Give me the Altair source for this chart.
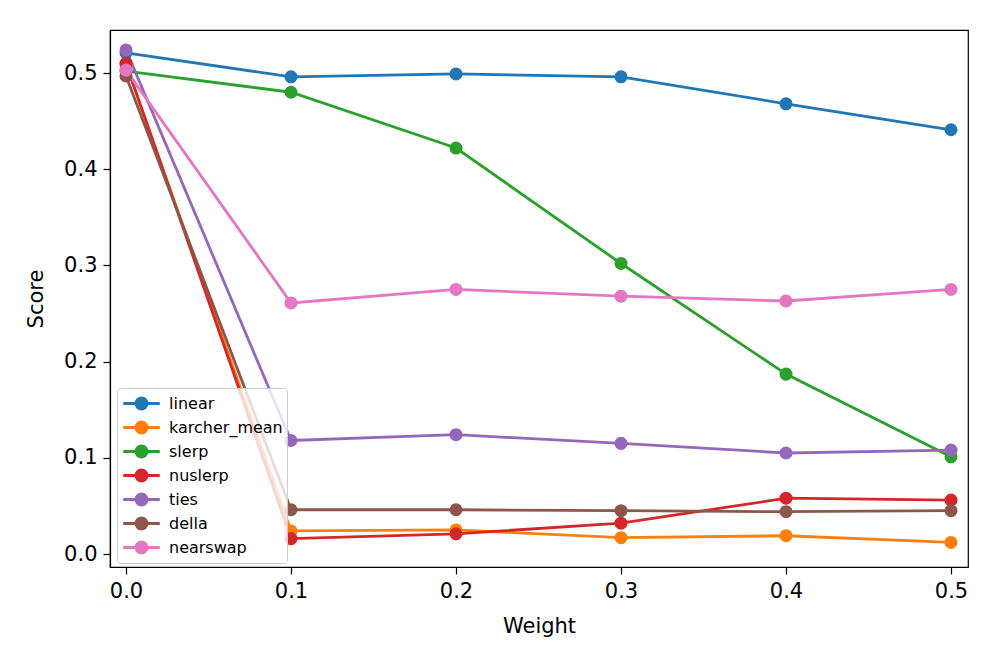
import altair as alt
import pandas as pd

weights = [0.0, 0.1, 0.2, 0.3, 0.4, 0.5]
methods = ["linear", "karcher_mean", "slerp", "nuslerp", "ties", "della", "nearswap"]
colors = ["#1f77b4", "#ff7f0e", "#2ca02c", "#d62728", "#9467bd", "#8c564b", "#e377c2"]

linear = [0.521, 0.496, 0.499, 0.496, 0.468, 0.441]
karcher_mean = [0.509, 0.024, 0.025, 0.017, 0.019, 0.012]
slerp = [0.502, 0.480, 0.422, 0.302, 0.187, 0.101]
nuslerp = [0.510, 0.016, 0.021, 0.032, 0.058, 0.056]
ties = [0.524, 0.118, 0.124, 0.115, 0.105, 0.108]
della = [0.497, 0.046, 0.046, 0.045, 0.044, 0.045]
nearswap = [0.503, 0.261, 0.275, 0.268, 0.263, 0.275]

series = [linear, karcher_mean, slerp, nuslerp, ties, della, nearswap]
rows = []
for i, (m, vals) in enumerate(zip(methods, series)):
    for w, v in zip(weights, vals):
        rows.append({"Weight": w, "Score": v, "method": m, "order": i})
df = pd.DataFrame(rows)

xs = alt.Scale(domain=[-0.0097, 0.5103], nice=False, zero=False)
ys = alt.Scale(domain=[-0.0135, 0.5447], nice=False, zero=False)
cs = alt.Scale(domain=methods, range=colors)

xax = alt.Axis(values=weights, format=".1f", title="Weight", grid=False)
yax = alt.Axis(values=[0.0, 0.1, 0.2, 0.3, 0.4, 0.5], format=".1f", title="Score", grid=False)

# line segment plus concentric rings that read as a filled dot
rings = "".join(
    f"M-{r},0A{r},{r} 0 1,1 {r},0A{r},{r} 0 1,1 -{r},0"
    for r in ["0.55", "0.43", "0.31", "0.19", "0.07"]
)
legend_path = "M-1.83,0H1.83" + rings

leg = alt.Legend(orient="none", legendX=7, legendY=358,
                 symbolType=legend_path, symbolSize=400,
                 symbolStrokeWidth=2.8, labelFontSize=16,
                 labelFont="DejaVu Sans", rowPadding=1,
                 labelOffset=16, symbolOffset=9,
                 fillColor="rgba(255,255,255,0.8)", strokeColor="#cccccc",
                 cornerRadius=3, padding=4)

chart = alt.Chart(df).mark_line(
    strokeWidth=2.8,
    point=alt.OverlayMarkDef(filled=True, size=170, opacity=1),
).encode(
    x=alt.X("Weight:Q", scale=xs, axis=xax),
    y=alt.Y("Score:Q", scale=ys, axis=yax),
    color=alt.Color("method:N", scale=cs, sort=methods, title=None, legend=leg),
    order=alt.Order("Weight:Q"),
).properties(
    width=858, height=537,
    autosize=alt.AutoSizeParams(type="none"),
    padding={"left": 102, "top": 22, "right": 21, "bottom": 89},
).configure_view(stroke="black", strokeWidth=1.2).configure_axis(
    labelFont="DejaVu Sans", titleFont="DejaVu Sans", labelFontSize=21, titleFontSize=21,
    labelColor="black", titleColor="black", domainColor="black", tickColor="black",
    tickSize=7, titleFontWeight="normal", labelPadding=6, domainWidth=1.2, tickWidth=1.2,
).configure_axisX(titlePadding=14).configure_axisY(titlePadding=17)

chart.save("out.html", embed_options={"renderer": "svg", "actions": False})
